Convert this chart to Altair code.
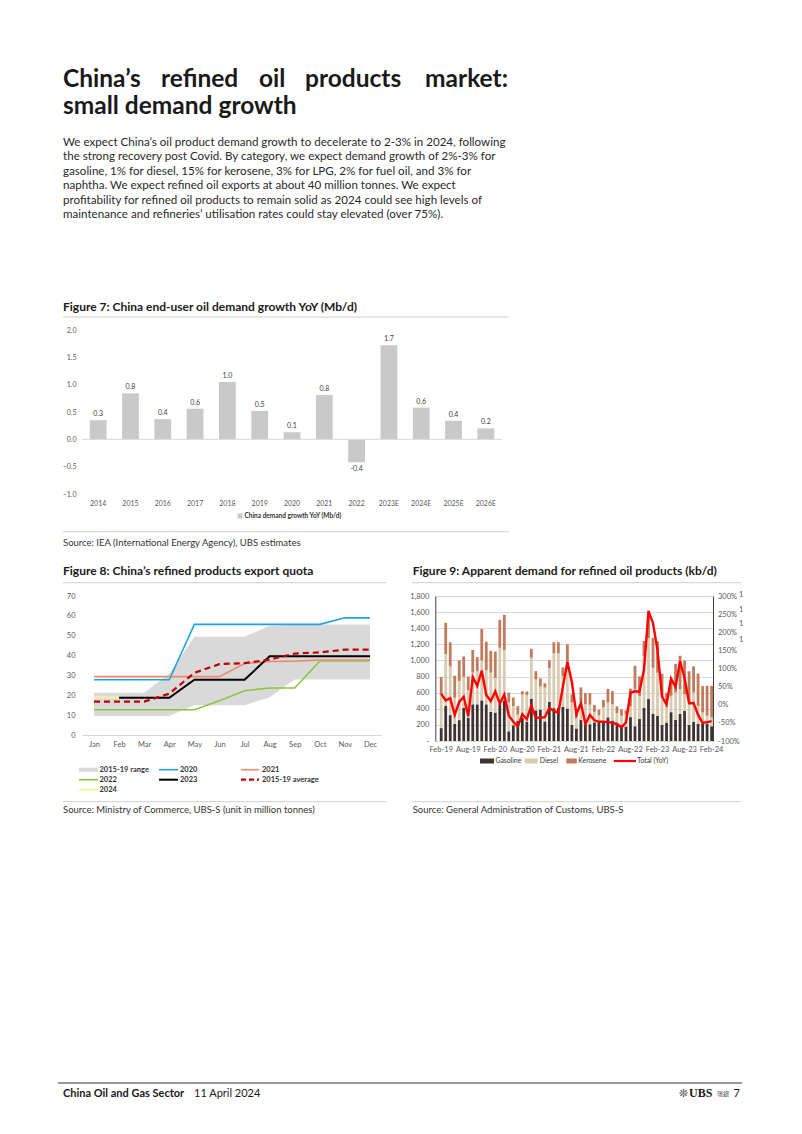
import altair as alt
import pandas as pd

FONT = "Lato"
TXT = "#1a1a1a"
AX = "#595959"

# ---------------- header text ----------------
title_line1 = ["China’s", "refined", "oil", "products", "market:"]
title_line2 = "small demand growth"
paragraph = [
    "We expect China’s oil product demand growth to decelerate to 2-3% in 2024, following",
    "the strong recovery post Covid. By category, we expect demand growth of 2%-3% for",
    "gasoline, 1% for diesel, 15% for kerosene, 3% for LPG, 2% for fuel oil, and 3% for",
    "naphtha. We expect refined oil exports at about 40 million tonnes. We expect",
    "profitability for refined oil products to remain solid as 2024 could see high levels of",
    "maintenance and refineries’ utilisation rates could stay elevated (over 75%).",
]

# ---------------- figure 7 ----------------
years7 = ["2014", "2015", "2016", "2017", "2018", "2019", "2020", "2021", "2022",
          "2023E", "2024E", "2025E", "2026E"]
growth7 = [0.35, 0.84, 0.37, 0.56, 1.05, 0.52, 0.13, 0.81, -0.42, 1.72, 0.58, 0.34, 0.20]
labels7 = ["0.3", "0.8", "0.4", "0.6", "1.0", "0.5", "0.1", "0.8", "-0.4", "1.7", "0.6", "0.4", "0.2"]

# ---------------- figure 8 ----------------
months8 = ["Jan", "Feb", "Mar", "Apr", "May", "Jun", "Jul", "Aug", "Sep", "Oct", "Nov", "Dec"]
range_low = [9.6, 9.6, 9.6, 9.6, 15, 15, 15, 19, 28, 28, 28, 28]
range_high = [21.3, 21.3, 21.3, 31, 49.5, 49.5, 49.5, 55, 55.6, 55.6, 55.6, 55.6]
q2020 = [27.8, 27.8, 27.8, 27.8, 55.7, 55.7, 55.7, 55.7, 55.7, 55.7, 59, 59]
q2021 = [29.4, 29.4, 29.4, 29.4, 29.4, 29.4, 36, 37, 37.2, 37.8, 37.8, 37.8]
q2022 = [12.7, 12.7, 12.7, 12.7, 12.7, 17.3, 22.3, 23.7, 23.7, 37.3, 37.3, 37.3]
q2023 = [None, 18.7, 18.7, 18.7, 27.8, 27.8, 27.8, 39.7, 39.7, 39.7, 39.7, 39.7]
q2024 = [18.9, 18.9, None, None, None, None, None, None, None, None, None, None]
q_avg = [16.8, 16.8, 16.8, 20.8, 31.3, 35.7, 36.2, 38, 41, 41.6, 43, 43]

# ---------------- figure 9 ----------------
months9 = pd.date_range("2019-01-01", "2024-02-01", freq="MS").strftime("%b-%y").tolist()
data_months9 = months9[1:]
xlabels9 = ["Feb-19", "Aug-19", "Feb-20", "Aug-20", "Feb-21", "Aug-21", "Feb-22",
            "Aug-22", "Feb-23", "Aug-23", "Feb-24"]
gasoline = [160, 435, 321, 212, 259, 410, 290, 455, 455, 504, 455, 362, 352, 460, 505,
            120, 195, 250, 290, 240, 525, 380, 390, 243, 484, 408, 414, 422, 403, 198,
            155, 260, 208, 208, 232, 238, 238, 294, 253, 228, 198, 180, 296, 183, 273,
            414, 521, 338, 311, 198, 228, 358, 261, 335, 375, 198, 239, 212, 212, 218, 183]
diesel = [420, 645, 604, 325, 486, 385, 340, 393, 413, 496, 425, 486, 434, 698, 625,
          360, 237, 80, 287, 330, 510, 385, 285, 420, 419, 682, 676, 385, 506, 279,
          137, 238, 249, 242, 130, 83, 178, 183, 204, 118, 115, 150, 134, 459, 287,
          639, 759, 571, 537, 362, 249, 202, 340, 307, 205, 279, 362, 224, 142, 95, 109]
kerosene = [215, 387, 300, 273, 255, 255, 170, 282, 173, 391, 352, 272, 324, 346, 436,
            120, 108, 102, 40, 45, 109, 101, 103, 53, 99, 136, 136, 105, 291, 101,
            66, 167, 138, 145, 84, 68, 94, 169, 162, 84, 80, 50, 220, 292, 242,
            188, 339, 371, 389, 276, 121, 173, 354, 416, 420, 389, 325, 402, 327, 372, 393]
total_yoy = [30, 12, 18, -28, 8, 22, -32, 76, 52, 94, 27, 10, 37, 3, 28,
             -30, -47, -60, -26, -40, -2, -36, -36, -34, -9, -17, -22, 50, 118, 62,
             -27, 5, -54, -28, -43, -47, -47, -48, -50, -53, -63, -48, 33, 37, 36,
             97, 258, 225, 150, 23, 0, 72, 49, 120, 74, 4, 5, -28, -50, -48, -45]
products9 = ["Gasoline", "Diesel", "Kerosene"]
colors9 = ["#3d3431", "#d9cbb1", "#c27a5d"]

# ---------------- helpers ----------------
ONE = alt.Data(values=[{"k": 1}])


def txt(s, x, y, size, weight="normal", color=TXT, align="left", baseline="alphabetic", font=FONT):
    return alt.Chart(ONE).mark_text(
        text=s, align=align, baseline=baseline, fontSize=size, fontWeight=weight,
        color=color, font=font
    ).encode(x=alt.value(x), y=alt.value(y))


def hrule(x1, x2, y, color="#d0d0d0", width=1.0, dash=None):
    kw = dict(color=color, strokeWidth=width)
    if dash:
        kw["strokeDash"] = dash
    return alt.Chart(ONE).mark_rule(**kw).encode(x=alt.value(x1), x2=alt.value(x2), y=alt.value(y))


def box(x1, x2, y1, y2, color):
    return alt.Chart(ONE).mark_rect(color=color).encode(
        x=alt.value(x1), x2=alt.value(x2), y=alt.value(y1), y2=alt.value(y2))


# ============ Figure 7 (with header and footer decorations) ============
# plot origin is page (81, 329)
df7 = pd.DataFrame({"year": years7, "growth": growth7, "label": labels7})
X7 = alt.X("year:N", sort=years7,
           scale=alt.Scale(paddingInner=0.48, paddingOuter=0.24),
           axis=alt.Axis(title=None, labelAngle=0, ticks=False, domain=False,
                         labelFontSize=7, labelColor=AX, labelPadding=5, labelFont=FONT))
Y7 = alt.Y("growth:Q", scale=alt.Scale(domain=[-1, 2], nice=False),
           axis=alt.Axis(title=None, values=[-1, -0.5, 0, 0.5, 1, 1.5, 2], format=".1f",
                         grid=False, domain=False, ticks=False, labelFontSize=7,
                         labelColor=AX, labelPadding=6, labelFont=FONT))
bars7 = alt.Chart(df7).mark_bar(color="#c9c9c9").encode(x=X7, y=Y7)
zero7 = alt.Chart(pd.DataFrame({"growth": [0]})).mark_rule(color="#d9d9d9", strokeWidth=1).encode(y=Y7)
lab_pos = alt.Chart(df7).transform_filter("datum.growth >= 0").mark_text(
    dy=-6, baseline="middle", fontSize=7, color="#404040", font=FONT).encode(x=X7, y=Y7, text="label:N")
lab_neg = alt.Chart(df7).transform_filter("datum.growth < 0").mark_text(
    dy=7, baseline="middle", fontSize=7, color="#404040", font=FONT).encode(x=X7, y=Y7, text="label:N")

decor7 = [
    box(-24, -23, -274, -273, "white"),  # layout anchor
    # header
    txt(title_line1[0], -19, -243, 24.5, "bold"),
    txt(title_line1[1], 79, -243, 24.5, "bold"),
    txt(title_line1[2], 177, -243, 24.5, "bold"),
    txt(title_line1[3], 223, -243, 24.5, "bold"),
    txt(title_line1[4], 426, -243, 24.5, "bold", align="right"),
    txt(title_line2, -19, -216, 24.5, "bold"),
]
for i, line in enumerate(paragraph):
    decor7.append(txt(line, -19, -184 + i * 14.46, 11.6, color="#2a2a2a"))
decor7 += [
    txt("Figure 7: China end-user oil demand growth YoY (Mb/d)", -19, -19, 12, "bold"),
    hrule(-19, 427, -13),
    box(155.5, 160.5, 183.5, 188.5, "#c9c9c9"),
    txt("China demand growth YoY (Mb/d)", 162.5, 186, 6.5, "bold", color="#333333", baseline="middle"),
    hrule(-19, 427, 201.7),
    txt("Source: IEA (International Energy Agency), UBS estimates", -19, 216, 9.5, color="#333333"),
    # footer
    hrule(-24, 660, 753, color="#333333", width=1),
    txt("China Oil and Gas Sector", -19, 767, 11, "bold"),
    txt("11 April 2024", 112, 767, 11),
    txt("❊", 597, 767, 11, font="DejaVu Sans"),
    txt("UBS", 607, 767, 12, "bold", font="Liberation Serif"),
    txt("瑞銀", 635, 766, 6, font="Noto Sans CJK TC", color="#555555"),
    txt("7", 658, 767, 11, align="right"),
]
fig7 = alt.layer(bars7, zero7, lab_pos, lab_neg, *decor7).properties(width=420, height=164)

# ============ Figure 8 ============
# plot origin page (81, 595)
df8 = pd.DataFrame({"month": months8, "lo": range_low, "hi": range_high,
                    "y2020": q2020, "y2021": q2021, "y2022": q2022, "y2023": q2023,
                    "y2024": q2024, "avg": q_avg})
X8 = alt.X("month:N", sort=months8, scale=alt.Scale(type="point", padding=0.478),
           axis=alt.Axis(title=None, labelAngle=0, ticks=False, domain=True, domainColor="#d9d9d9",
                         labelFontSize=7.5, labelColor=AX, labelPadding=5, labelFont=FONT))


def Y8(field):
    return alt.Y(f"{field}:Q", scale=alt.Scale(domain=[0, 70], nice=False),
                 axis=alt.Axis(title=None, values=list(range(0, 71, 10)), grid=False, domain=False,
                               ticks=False, labelFontSize=7.5, labelColor=AX, labelPadding=7,
                               labelFont=FONT))


area8 = alt.Chart(df8).mark_area(color="#d9d9d9").encode(x=X8, y=Y8("lo"), y2="hi:Q")


def line8(field, color, width, dash=None):
    kw = dict(color=color, strokeWidth=width)
    if dash:
        kw["strokeDash"] = dash
    return alt.Chart(df8).mark_line(**kw).encode(x=X8, y=Y8(field))


lines8 = [
    line8("y2022", "#8cc63e", 1.6),
    line8("y2021", "#ee8a6c", 1.6),
    line8("y2020", "#1ea5de", 1.6),
    line8("y2024", "#f6f59c", 2.0),
    line8("y2023", "#000000", 2.0),
    line8("avg", "#c00000", 2.2, [6, 4]),
]
decor8 = [
    txt("Figure 8: China’s refined products export quota", -19, -20.7, 12, "bold"),
    hrule(-19, 304, -13.3),
    box(-3, 16, 171.7, 175.7, "#d9d9d9"),
    txt("2015-19 range", 17.5, 173.7, 7.5, "bold", color="#333333", baseline="middle"),
    hrule(77, 96, 173.7, color="#1ea5de", width=1.6),
    txt("2020", 98, 173.7, 7.5, "bold", color="#333333", baseline="middle"),
    hrule(159, 177, 173.7, color="#ee8a6c", width=1.6),
    txt("2021", 180, 173.7, 7.5, "bold", color="#333333", baseline="middle"),
    hrule(-3, 16, 183.7, color="#8cc63e", width=1.6),
    txt("2022", 17.5, 183.7, 7.5, "bold", color="#333333", baseline="middle"),
    hrule(77, 96, 183.7, color="#000000", width=2),
    txt("2023", 98, 183.7, 7.5, "bold", color="#333333", baseline="middle"),
    hrule(159, 177, 183.7, color="#c00000", width=2.2, dash=[5, 3]),
    txt("2015-19 average", 180, 183.7, 7.5, "bold", color="#333333", baseline="middle"),
    hrule(-3, 16, 193.7, color="#f6f59c", width=2),
    txt("2024", 17.5, 193.7, 7.5, "bold", color="#333333", baseline="middle"),
    hrule(-19, 304, 205.7),
    txt("Source: Ministry of Commerce, UBS-S (unit in million tonnes)", -19, 216.7, 9.5, color="#333333"),
]
fig8 = alt.layer(area8, *lines8, *decor8).properties(width=300, height=139)

# ============ Figure 9 ============
# plot origin page (434.3, 595)
rows = []
for p_i, (p, vals) in enumerate(zip(products9, [gasoline, diesel, kerosene])):
    for m, v in zip(data_months9, vals):
        rows.append({"month": m, "product": p, "value": v, "ord": p_i})
df9 = pd.DataFrame(rows)
dfy = pd.DataFrame({"month": data_months9, "yoy": total_yoy})

X9 = alt.X("month:N", sort=months9, scale=alt.Scale(domain=months9, paddingInner=0.38, paddingOuter=0),
           axis=alt.Axis(title=None, values=xlabels9, labelAngle=0, ticks=False, domain=False,
                         labelOverlap=False, labelFontSize=7.5, labelColor=AX, labelPadding=4.5,
                         labelFont=FONT))
bars9 = alt.Chart(df9).mark_bar().encode(
    x=X9,
    y=alt.Y("value:Q", stack="zero", scale=alt.Scale(domain=[0, 1800], nice=False),
            axis=alt.Axis(title=None, values=list(range(0, 1801, 200)),
                          labelExpr="datum.value == 0 ? '-' : format(datum.value, ',')",
                          grid=True, gridColor="#d9d9d9", domain=True, domainColor="#404040",
                          ticks=False, labelFontSize=7.5, labelColor=AX, labelPadding=6.5,
                          labelFont=FONT)),
    color=alt.Color("product:N", scale=alt.Scale(domain=products9, range=colors9), legend=None),
    order=alt.Order("ord:Q"),
)
line9 = alt.Chart(dfy).mark_line(color="#ff0000", strokeWidth=2.4).encode(
    x=X9,
    y=alt.Y("yoy:Q", scale=alt.Scale(domain=[-100, 300], nice=False),
            axis=alt.Axis(title=None, orient="right", values=list(range(-100, 301, 50)),
                          labelExpr="datum.value + '%'", grid=False, domain=True,
                          domainColor="#404040", ticks=False, labelFontSize=7.5, labelColor=AX,
                          labelPadding=4.5, labelFont=FONT)),
)
LEG9 = 6.8
decor9 = [
    txt("Figure 9: Apparent demand for refined oil products (kb/d)", -22.6, -20.7, 12, "bold"),
    hrule(-23.3, 305.7, -13.3),
    box(44.7, 58.7, 162.5, 167.5, colors9[0]),
    txt("Gasoline", 60.2, 165, LEG9, color="#333333", baseline="middle"),
    box(89.5, 102.5, 162.5, 167.5, colors9[1]),
    txt("Diesel", 104.5, 165, LEG9, color="#333333", baseline="middle"),
    box(131, 141.5, 162.5, 167.5, colors9[2]),
    txt("Kerosene", 143, 165, LEG9, color="#333333", baseline="middle"),
    hrule(178.5, 200.7, 165, color="#ff0000", width=2.2),
    txt("Total (YoY)", 202, 165, LEG9, color="#333333", baseline="middle"),
    txt("1", 303.7, -1, 7.5, color=AX, baseline="middle"),
    txt("1", 303.7, 13.7, 7.5, color=AX, baseline="middle"),
    txt("1", 303.7, 28, 7.5, color=AX, baseline="middle"),
    txt("1", 303.7, 43.7, 7.5, color=AX, baseline="middle"),
    hrule(-23.3, 305.7, 205.7),
    txt("Source: General Administration of Customs, UBS-S", -22.6, 216.7, 9.5, color="#333333"),
]
fig9 = alt.layer(bars9, line9, *decor9).resolve_scale(y="independent").properties(width=277.7, height=145)

row = alt.hconcat(fig8, fig9, spacing=53.3, bounds="flush")
chart = alt.vconcat(fig7, row, spacing=102, bounds="flush").properties(
    padding={"left": 49, "top": 47, "right": 20, "bottom": 10},
    background="white",
).configure_view(stroke="transparent")

chart.save("out.html", embed_options={"renderer": "svg", "actions": False})
